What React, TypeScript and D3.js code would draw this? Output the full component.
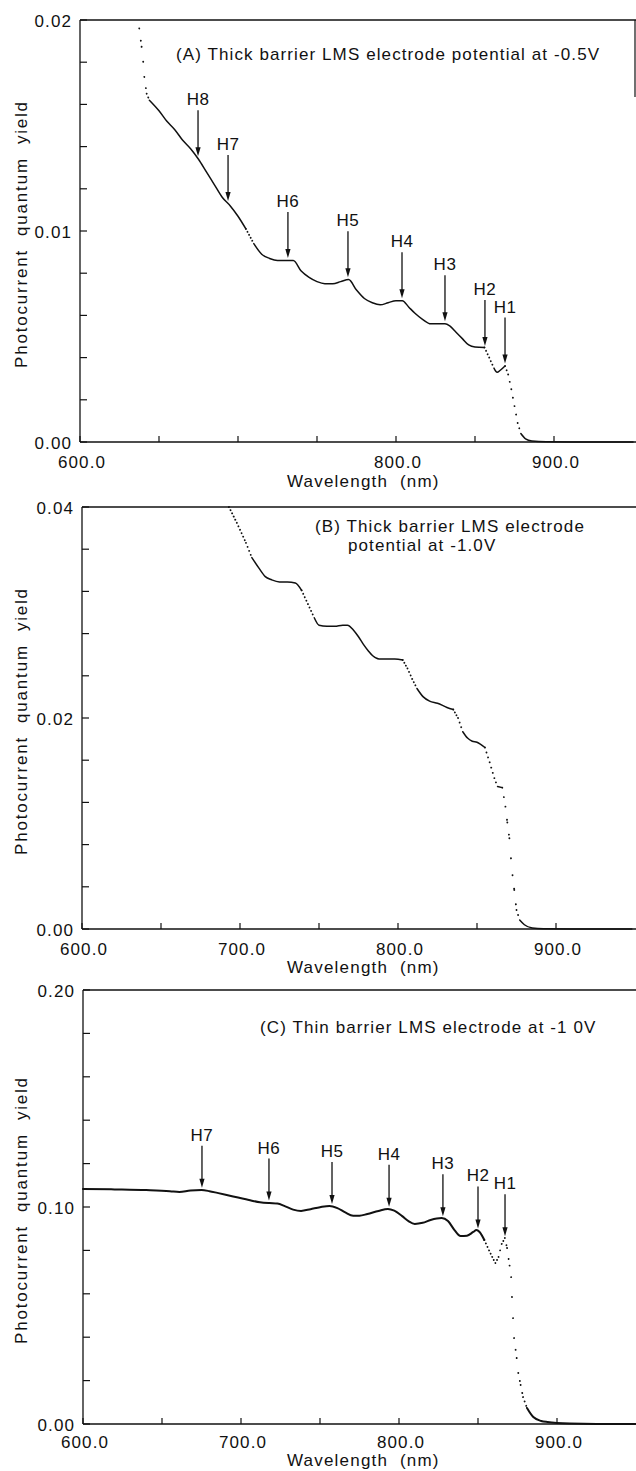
import React from 'react';
import * as d3 from 'd3';

// ---------- Data (wavelength nm, photocurrent quantum yield) ----------
const wlA = [637.5, 639, 640, 640.7, 642.2, 643.9, 650, 655, 660, 665, 670, 675, 680, 685, 690, 695, 700, 705, 710, 715, 720, 725, 730, 735, 740, 745, 750, 755, 760, 765, 770, 775, 780, 785, 790, 795, 800, 804, 808, 812, 817, 822, 827, 831, 834, 838, 842, 846, 850, 856, 859, 862, 864, 866, 869, 871, 873, 875, 877, 879, 882, 886, 895, 920, 950];
const qyA = [0.0196, 0.01873, 0.01802, 0.0173, 0.01651, 0.0162, 0.0157, 0.0152, 0.0148, 0.0143, 0.0139, 0.0134, 0.0128, 0.0122, 0.0116, 0.0112, 0.0107, 0.0101, 0.0094, 0.0089, 0.0087, 0.0086, 0.0086, 0.0086, 0.0081, 0.0078, 0.0076, 0.0075, 0.0075, 0.0076, 0.0077, 0.0072, 0.0068, 0.0066, 0.0065, 0.0066, 0.0067, 0.0067, 0.0064, 0.0061, 0.0058, 0.0056, 0.0056, 0.0056, 0.0055, 0.0052, 0.0049, 0.0046, 0.0045, 0.00448, 0.0040, 0.0035, 0.0033, 0.0034, 0.0036, 0.0032, 0.0025, 0.0017, 0.0009, 0.0004, 0.00015, 0.00005, 0.00001, 0, 0];

const wlB = [693, 698, 703.8, 707.5, 712, 716, 720, 725, 730, 735, 739, 743, 747, 750, 755, 760, 765, 768, 772, 775, 778, 781, 784, 788, 793, 798, 803, 806, 809, 812, 816, 820, 825, 831, 835, 838, 841, 844, 847, 850, 855, 858, 861, 863, 866, 868, 869.2, 870.5, 871.5, 872.5, 873.6, 875, 877, 880, 885, 892, 920, 948];
const qyB = [0.0400, 0.0385, 0.0366, 0.0352, 0.0342, 0.0334, 0.0331, 0.0329, 0.0329, 0.0328, 0.0321, 0.0308, 0.0295, 0.0288, 0.0287, 0.0287, 0.0288, 0.0288, 0.0283, 0.0277, 0.0270, 0.0264, 0.0259, 0.0256, 0.0256, 0.0256, 0.0255, 0.0247, 0.0237, 0.0228, 0.0220, 0.0216, 0.0214, 0.0210, 0.0208, 0.0200, 0.0187, 0.0181, 0.0178, 0.0177, 0.0172, 0.0158, 0.0143, 0.0135, 0.0134, 0.0116, 0.0101, 0.0086, 0.0067, 0.0051, 0.0037, 0.0018, 0.00085, 0.0004, 0.0001, 0.00002, 0, 0];

const wlC = [600, 620, 640, 655, 661, 668, 675, 680, 685, 695, 705, 712, 718, 723, 728, 733, 738, 744, 750, 756, 761, 766, 771, 775, 780, 787, 793, 797, 802, 806, 810, 815, 820, 827, 831, 835, 839, 843, 847, 849, 851, 854, 857, 859, 861, 863, 865, 867, 868.4, 870, 871, 871.5, 872.2, 872.8, 874.5, 875.5, 877, 878.5, 881, 885, 890, 894, 908, 925, 950];
const qyC = [0.1083, 0.1081, 0.1078, 0.1073, 0.1069, 0.1076, 0.1078, 0.1073, 0.1065, 0.1048, 0.1032, 0.1022, 0.1018, 0.1016, 0.1003, 0.0988, 0.0982, 0.0990, 0.0999, 0.1005, 0.0995, 0.0975, 0.0960, 0.0960, 0.0968, 0.0982, 0.0991, 0.0983, 0.0958, 0.0935, 0.0922, 0.0927, 0.0940, 0.0949, 0.0935, 0.0895, 0.0866, 0.0868, 0.0885, 0.0894, 0.0885, 0.0848, 0.0800, 0.0770, 0.0742, 0.0770, 0.0830, 0.0857, 0.0811, 0.0730, 0.0677, 0.0585, 0.0488, 0.0396, 0.0304, 0.0235, 0.0180, 0.0124, 0.0074, 0.0032, 0.0014, 0.0009, 0.0002, 0, 0];

// Axis ticks and labels
const xTicks = [600, 650, 700, 750, 800, 850, 900];
const xLabelsA = [600, 800, 900];
const xLabelsBC = [600, 700, 800, 900];
const yMajorA = [0, 0.01, 0.02];
const yMajorB = [0, 0.02, 0.04];
const yMajorC = [0, 0.1, 0.2];

// Annotations (heavy-hole exciton labels)
const annLabelsA = ['H8', 'H7', 'H6', 'H5', 'H4', 'H3', 'H2', 'H1'];
const annWlA = [674.7, 693.7, 731.6, 769.6, 803.8, 831, 856.3, 869];
const annLabelsC = ['H7', 'H6', 'H5', 'H4', 'H3', 'H2', 'H1'];
const annWlC = [675.3, 717.7, 757.6, 793.7, 827.8, 850, 867.1];

const titleA = ['(A) Thick barrier LMS electrode potential at -0.5V'];
const titleB = ['(B) Thick barrier LMS electrode', 'potential at -1.0V'];
const titleC = ['(C) Thin barrier LMS electrode at -1 0V'];

const FONT = "'Liberation Sans', Arial, Helvetica, sans-serif";
const INK = '#111';

type PanelProps = {
  wl: number[]; qy: number[]; yMax: number; yMinor: number; yMajor: number[]; yDigits: number;
  xLabels: number[]; left: number; top: number; bottom: number;
  title: string[]; titlePos: [number, number][];
  annLabels?: string[]; annWl?: number[]; arrowLen?: number;
  xLabelDy: number; xTitleY: number; strokeW: number; rightBorder?: number;
};

function interp(wl: number[], qy: number[], w: number) {
  const i = d3.bisectLeft(wl, w);
  if (i <= 0) return qy[0];
  if (i >= wl.length) return qy[qy.length - 1];
  const t = (w - wl[i - 1]) / (wl[i] - wl[i - 1]);
  return qy[i - 1] + t * (qy[i] - qy[i - 1]);
}

function Panel(p: PanelProps) {
  const x = d3.scaleLinear().domain([600, 950]).range([p.left, p.left + 553]);
  const y = d3.scaleLinear().domain([0, p.yMax]).range([p.bottom, p.top]);
  const pxPerNm = x(601) - x(600);
  const pts: [number, number][] = p.wl.map((w, i) => [x(w), y(p.qy[i])]);

  const solid: [number, number][][] = [];
  const dotted: { a: [number, number]; b: [number, number]; s: number }[] = [];
  let cur: [number, number][] = [pts[0]];
  for (let i = 1; i < pts.length; i++) {
    const dx = pts[i][0] - pts[i - 1][0];
    const dy = pts[i][1] - pts[i - 1][1];
    const s = Math.abs(dy) / Math.max(dx, 0.001);
    if (s > 1.7) {
      if (cur.length > 1) solid.push(cur);
      cur = [pts[i]];
      dotted.push({ a: pts[i - 1], b: pts[i], s });
    } else {
      cur.push(pts[i]);
    }
  }
  if (cur.length > 1) solid.push(cur);

  const line = d3.line<[number, number]>().x(d => d[0]).y(d => d[1]).curve(d3.curveMonotoneX);
  const minorTicks = d3.range(0, p.yMax + p.yMinor / 2, p.yMinor);
  const right = 635;

  return (
    <g>
      {/* frame */}
      <line x1={p.left} x2={right + 2} y1={p.top} y2={p.top} stroke={INK} strokeWidth={1.3} />
      <line x1={p.left} x2={p.left} y1={p.top} y2={p.bottom} stroke={INK} strokeWidth={1.3} />
      <line x1={p.left} x2={right + 2} y1={p.bottom} y2={p.bottom} stroke={INK} strokeWidth={1.3} />
      {p.rightBorder ? <line x1={right} x2={right} y1={p.top} y2={p.top + p.rightBorder} stroke={INK} strokeWidth={1.2} /> : null}
      {/* y ticks */}
      {minorTicks.map((v, i) => (
        <line key={'yt' + i} x1={p.left} x2={p.left + 7} y1={y(v)} y2={y(v)} stroke={INK} strokeWidth={1.2} />
      ))}
      {p.yMajor.map((v, i) => (
        <text key={'yl' + i} x={p.left - 8} y={y(v) + 7} textAnchor="end" fontSize={17} letterSpacing={1.1} fontFamily={FONT} fill={INK}>{v.toFixed(p.yDigits)}</text>
      ))}
      {/* x ticks */}
      {xTicks.map((v, i) => (
        <line key={'xt' + i} x1={x(v)} x2={x(v)} y1={p.bottom} y2={p.bottom - 6} stroke={INK} strokeWidth={1.2} />
      ))}
      {p.xLabels.map((v, i) => (
        <text key={'xl' + i} x={x(v) + 2} y={p.bottom + p.xLabelDy} textAnchor="middle" fontSize={17} letterSpacing={1.1} fontFamily={FONT} fill={INK}>{v.toFixed(1)}</text>
      ))}
      <text x={287} y={p.xTitleY} fontSize={17} letterSpacing={1.2} fontFamily={FONT} fill={INK} style={{ whiteSpace: 'pre' }}>{'Wavelength  (nm)'}</text>
      <text transform={`translate(27,${(p.top + p.bottom) / 2 + 3}) rotate(-90)`} textAnchor="middle" fontSize={17} letterSpacing={1.8} fontFamily={FONT} fill={INK} style={{ whiteSpace: 'pre' }}>{'Photocurrent  quantum  yield'}</text>
      {/* titles */}
      {p.title.map((t, i) => (
        <text key={'ti' + i} x={p.titlePos[i][0]} y={p.titlePos[i][1]} fontSize={17} letterSpacing={1.1} fontFamily={FONT} fill={INK}>{t}</text>
      ))}
      {/* curve */}
      {solid.map((g, i) => (
        <path key={'s' + i} d={line(g) || ''} fill="none" stroke={INK} strokeWidth={p.strokeW} strokeLinejoin="round" strokeLinecap="round" />
      ))}
      {dotted.map((d, i) => {
        const spacing = pxPerNm * Math.sqrt(1 + d.s * d.s);
        return (
          <line key={'d' + i} x1={d.a[0]} y1={d.a[1]} x2={d.b[0]} y2={d.b[1]} stroke={INK} strokeWidth={1.9}
            strokeLinecap="round" strokeDasharray={`0.01 ${spacing.toFixed(2)}`} />
        );
      })}
      {/* annotations */}
      {(p.annLabels || []).map((lab, i) => {
        const w = (p.annWl as number[])[i];
        const xx = x(w);
        const tip = y(interp(p.wl, p.qy, w)) - 2.5;
        const len = p.arrowLen || 45;
        return (
          <g key={'a' + i}>
            <line x1={xx} x2={xx} y1={tip - len} y2={tip - 6} stroke={INK} strokeWidth={1.3} />
            <path d={`M${xx},${tip} L${xx - 2.6},${tip - 9} L${xx + 2.6},${tip - 9} Z`} fill={INK} />
            <text x={xx} y={tip - len - 5} textAnchor="middle" fontSize={17} letterSpacing={0.5} fontFamily={FONT} fill={INK}>{lab}</text>
          </g>
        );
      })}
    </g>
  );
}

export default function App() {
  return (
    <svg width={636} height={1471} style={{ position: 'absolute', left: 0, top: 0, background: '#fff' }}>
      <rect x={0} y={0} width={636} height={1471} fill="#fff" />
      <Panel wl={wlA} qy={qyA} yMax={0.02} yMinor={0.002} yMajor={yMajorA} yDigits={2}
        xLabels={xLabelsA} left={80} top={20} bottom={442}
        title={titleA} titlePos={[[176, 60]]}
        annLabels={annLabelsA} annWl={annWlA} arrowLen={46}
        xLabelDy={26} xTitleY={487} strokeW={1.5} rightBorder={77} />
      <Panel wl={wlB} qy={qyB} yMax={0.04} yMinor={0.004} yMajor={yMajorB} yDigits={2}
        xLabels={xLabelsBC} left={82} top={507} bottom={929}
        title={titleB} titlePos={[[315, 532], [348, 551]]}
        xLabelDy={26} xTitleY={973} strokeW={1.5} />
      <Panel wl={wlC} qy={qyC} yMax={0.2} yMinor={0.02} yMajor={yMajorC} yDigits={2}
        xLabels={xLabelsBC} left={83} top={990} bottom={1424}
        title={titleC} titlePos={[[260, 1033]]}
        annLabels={annLabelsC} annWl={annWlC} arrowLen={42}
        xLabelDy={24} xTitleY={1466} strokeW={2} />
    </svg>
  );
}
